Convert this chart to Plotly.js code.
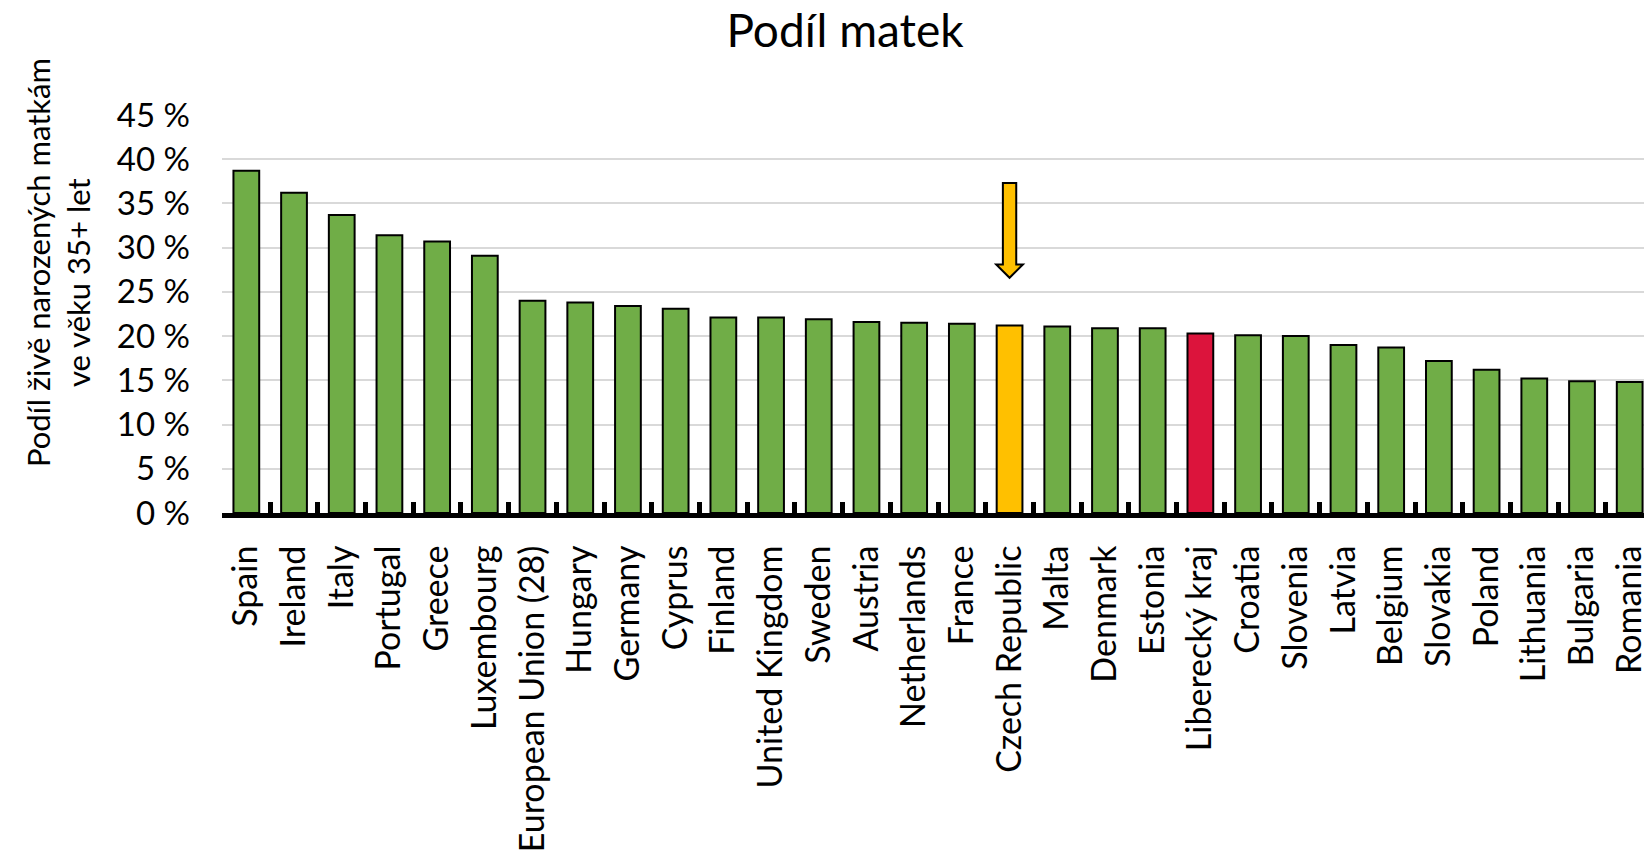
<!DOCTYPE html>
<html>
<head>
<meta charset="utf-8">
<script src="https://cdn.plot.ly/plotly-3.0.1.min.js"></script>
<style>
  html, body { margin: 0; padding: 0; background: #ffffff; }
  #chart { width: 1644px; height: 851px; }
</style>
</head>
<body>
<div id="chart"></div>
<script>
// ---- data ----
const categories = [
  "Spain", "Ireland", "Italy", "Portugal", "Greece", "Luxembourg",
  "European Union (28)", "Hungary", "Germany", "Cyprus", "Finland",
  "United Kingdom", "Sweden", "Austria", "Netherlands", "France",
  "Czech Republic", "Malta", "Denmark", "Estonia", "Liberecký kraj",
  "Croatia", "Slovenia", "Latvia", "Belgium", "Slovakia", "Poland",
  "Lithuania", "Bulgaria", "Romania"
];
const sharePct = [
  38.7, 36.2, 33.7, 31.4, 30.7, 29.1,
  24.0, 23.8, 23.4, 23.1, 22.1,
  22.1, 21.9, 21.6, 21.5, 21.4,
  21.2, 21.1, 20.9, 20.9, 20.3,
  20.1, 20.0, 19.0, 18.7, 17.2, 16.2,
  15.2, 14.9, 14.8
];
const yTickVals = [0, 5, 10, 15, 20, 25, 30, 35, 40, 45];
const yTickText = ["0 %", "5 %", "10 %", "15 %", "20 %", "25 %", "30 %", "35 %", "40 %", "45 %"];
const chartTitle = "Podíl matek";
const yTitleLines = ["Podíl živě narozených matkám", "ve věku 35+ let"];
const highlightCountry = "Czech Republic";
const highlightRegion = "Liberecký kraj";

// ---- styles ----
const GREEN = "#70ad47", YELLOW = "#ffc000", RED = "#dc143c";
const FONT = "Lato, 'Open Sans', sans-serif";

const barColors = categories.map(c =>
  c === highlightCountry ? YELLOW : (c === highlightRegion ? RED : GREEN));

const trace = {
  type: "bar",
  x: categories,
  y: sharePct,
  marker: { color: barColors, line: { color: "#000000", width: 2 } },
  hoverinfo: "skip"
};

// arrow pointing at the highlighted country (decoration, placed by its category index)
const ai = categories.indexOf(highlightCountry);
const shaftHalf = 0.14, headHalf = 0.28;
const yTop = 37.3, yHead = 28.1, yTip = 26.6;
const arrowPath = [
  "M", ai - shaftHalf, yTop,
  "L", ai + shaftHalf, yTop,
  "L", ai + shaftHalf, yHead,
  "L", ai + headHalf, yHead,
  "L", ai, yTip,
  "L", ai - headHalf, yHead,
  "L", ai - shaftHalf, yHead,
  "Z"
].join(" ");

const layout = {
  width: 1644,
  height: 851,
  paper_bgcolor: "#ffffff",
  plot_bgcolor: "#ffffff",
  margin: { l: 222, r: 0, t: 115, b: 338, pad: 0 },
  showlegend: false,
  bargap: 0.46,
  font: { family: FONT, color: "#000000" },
  title: {
    text: chartTitle,
    font: { family: FONT, size: 46, color: "#000000" },
    xref: "container", yref: "container",
    x: 845 / 1644, xanchor: "center",
    y: 1 - 31 / 851, yanchor: "middle"
  },
  xaxis: {
    type: "category",
    range: [-0.51, 29.3],
    showgrid: false,
    zeroline: false,
    showline: true,
    linecolor: "#000000",
    linewidth: 5,
    ticks: "inside",
    tickson: "boundaries",
    ticklen: 11,
    tickwidth: 5,
    tickcolor: "#000000",
    tickangle: -90,
    ticklabelstandoff: 14,
    tickfont: { family: FONT, size: 34, color: "#000000" },
    fixedrange: true
  },
  yaxis: {
    range: [0, 45],
    tickvals: yTickVals,
    ticktext: yTickText,
    showgrid: true,
    gridcolor: "#d9d9d9",
    gridwidth: 2,
    zeroline: false,
    showline: false,
    ticks: "",
    ticklabelstandoff: 31,
    tickfont: { family: FONT, size: 33, color: "#000000" },
    fixedrange: true
  },
  shapes: [{
    type: "path",
    xref: "x", yref: "y",
    path: arrowPath,
    fillcolor: YELLOW,
    line: { color: "#000000", width: 2 }
  }],
  annotations: [
    {
      text: yTitleLines[0], textangle: -90, showarrow: false,
      xref: "paper", yref: "paper",
      x: (38 - 222) / 1422, y: (513 - 262) / 398,
      xanchor: "center", yanchor: "middle",
      font: { family: FONT, size: 31, color: "#000000" }
    },
    {
      text: yTitleLines[1], textangle: -90, showarrow: false,
      xref: "paper", yref: "paper",
      x: (78 - 222) / 1422, y: (513 - 283) / 398,
      xanchor: "center", yanchor: "middle",
      font: { family: FONT, size: 31, color: "#000000" }
    }
  ]
};

Plotly.newPlot("chart", [trace], layout, { displayModeBar: false, staticPlot: true });
</script>
</body>
</html>
